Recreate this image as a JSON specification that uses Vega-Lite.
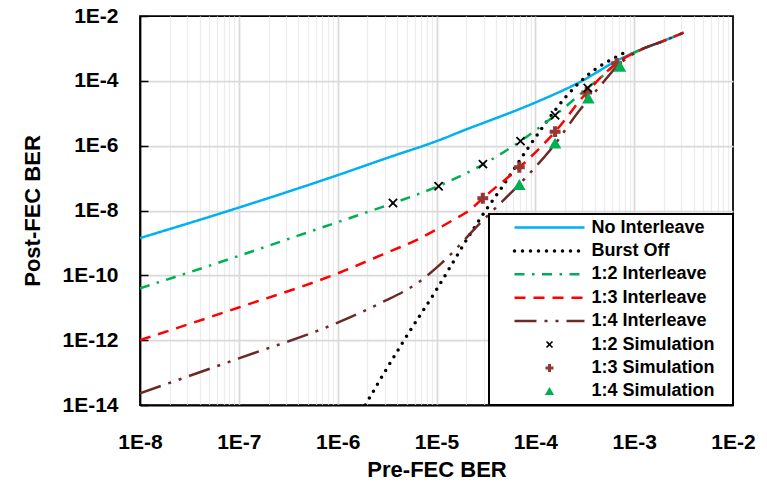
{
  "$schema": "https://vega.github.io/schema/vega-lite/v6.json",
  "width": 593,
  "height": 389,
  "autosize": {"type": "none"},
  "padding": {"left": 140, "top": 16, "right": 34, "bottom": 78},
  "background": "white",
  "config": {
    "font": "Liberation Sans",
    "view": {"stroke": "#000000", "strokeWidth": 1.75, "fill": "white"},
    "axis": {
      "labelFont": "Liberation Sans", "labelFontWeight": "bold", "labelFontSize": 21, "labelColor": "#000000",
      "titleFont": "Liberation Sans", "titleFontWeight": "bold", "titleFontSize": 22, "titleColor": "#000000",
      "domainColor": "#000000", "domainWidth": 1.75,
      "labelOverlap": false, "labelFlush": false, "labelBound": false
    },
    "legend": {
      "orient": "bottom-right", "offset": 0, "padding": 4.5,
      "fillColor": "white", "strokeColor": "#000000", "strokeWidth": 2,
      "symbolSize": 100, "symbolOffset": 47, "labelOffset": 33, "rowPadding": 5.4,
      "labelFont": "Liberation Sans", "labelFontSize": 18, "labelFontWeight": "bold", "labelColor": "#000000", "labelLimit": 400
    }
  },
  "data": {"values": [
    {"series": "No Interleave", "pre": 1e-8, "post": 1.41e-9},
    {"series": "No Interleave", "pre": 1e-7, "post": 1.23e-8},
    {"series": "No Interleave", "pre": 1e-6, "post": 1.23e-7},
    {"series": "No Interleave", "pre": 3.16e-6, "post": 4.17e-7},
    {"series": "No Interleave", "pre": 1e-5, "post": 1.38e-6},
    {"series": "No Interleave", "pre": 2.18e-5, "post": 3.51e-6},
    {"series": "No Interleave", "pre": 3.16e-5, "post": 5.37e-6},
    {"series": "No Interleave", "pre": 1e-4, "post": 2.14e-5},
    {"series": "No Interleave", "pre": 2.83e-4, "post": 9.2e-5},
    {"series": "No Interleave", "pre": 6.7e-4, "post": 4.17e-4},
    {"series": "No Interleave", "pre": 1.148e-3, "post": 8.91e-4},
    {"series": "No Interleave", "pre": 1.905e-3, "post": 1.62e-3},
    {"series": "No Interleave", "pre": 3.16e-3, "post": 3.05e-3},
    {"series": "Burst Off", "pre": 1.905e-6, "post": 1e-14},
    {"series": "Burst Off", "pre": 2.68e-6, "post": 5.92e-14},
    {"series": "Burst Off", "pre": 4.45e-6, "post": 7.64e-13},
    {"series": "Burst Off", "pre": 1.02e-5, "post": 3.99e-11},
    {"series": "Burst Off", "pre": 2.27e-5, "post": 2.22e-9},
    {"series": "Burst Off", "pre": 3.17e-5, "post": 1.04e-8},
    {"series": "Burst Off", "pre": 4.4e-5, "post": 4.3e-8},
    {"series": "Burst Off", "pre": 8.18e-5, "post": 7.36e-7},
    {"series": "Burst Off", "pre": 1.3e-4, "post": 5.5e-6},
    {"series": "Burst Off", "pre": 2.07e-4, "post": 3.4e-5},
    {"series": "Burst Off", "pre": 3.57e-4, "post": 1.71e-4},
    {"series": "Burst Off", "pre": 6.65e-4, "post": 5.56e-4},
    {"series": "Burst Off", "pre": 8.07e-4, "post": 7.59e-4},
    {"series": "1:2 Interleave", "pre": 1e-8, "post": 3.98e-11},
    {"series": "1:2 Interleave", "pre": 1e-7, "post": 3.98e-10},
    {"series": "1:2 Interleave", "pre": 3.16e-7, "post": 1.32e-9},
    {"series": "1:2 Interleave", "pre": 1e-6, "post": 4.37e-9},
    {"series": "1:2 Interleave", "pre": 3.16e-6, "post": 1.45e-8},
    {"series": "1:2 Interleave", "pre": 1e-5, "post": 5.37e-8},
    {"series": "1:2 Interleave", "pre": 3.16e-5, "post": 2.95e-7},
    {"series": "1:2 Interleave", "pre": 7.08e-5, "post": 1.38e-6},
    {"series": "1:2 Interleave", "pre": 1.585e-4, "post": 8.71e-6},
    {"series": "1:2 Interleave", "pre": 3.39e-4, "post": 6.03e-5},
    {"series": "1:2 Interleave", "pre": 5.01e-4, "post": 1.585e-4},
    {"series": "1:2 Interleave", "pre": 7.94e-4, "post": 5.37e-4},
    {"series": "1:2 Interleave", "pre": 1.148e-3, "post": 8.91e-4},
    {"series": "1:2 Interleave", "pre": 1.905e-3, "post": 1.62e-3},
    {"series": "1:2 Interleave", "pre": 3.16e-3, "post": 3.05e-3},
    {"series": "1:3 Interleave", "pre": 1e-8, "post": 1e-12},
    {"series": "1:3 Interleave", "pre": 1e-7, "post": 1.02e-11},
    {"series": "1:3 Interleave", "pre": 1e-6, "post": 1.15e-10},
    {"series": "1:3 Interleave", "pre": 2.79e-6, "post": 4.27e-10},
    {"series": "1:3 Interleave", "pre": 6.81e-6, "post": 1.39e-9},
    {"series": "1:3 Interleave", "pre": 1.48e-5, "post": 5.13e-9},
    {"series": "1:3 Interleave", "pre": 2.18e-5, "post": 1.04e-8},
    {"series": "1:3 Interleave", "pre": 2.95e-5, "post": 2.4e-8},
    {"series": "1:3 Interleave", "pre": 6.92e-5, "post": 2.14e-7},
    {"series": "1:3 Interleave", "pre": 1.585e-4, "post": 2.69e-6},
    {"series": "1:3 Interleave", "pre": 3.31e-4, "post": 4.37e-5},
    {"series": "1:3 Interleave", "pre": 6.65e-4, "post": 3.47e-4},
    {"series": "1:3 Interleave", "pre": 1.148e-3, "post": 8.91e-4},
    {"series": "1:3 Interleave", "pre": 1.905e-3, "post": 1.62e-3},
    {"series": "1:3 Interleave", "pre": 3.16e-3, "post": 3.05e-3},
    {"series": "1:4 Interleave", "pre": 1e-8, "post": 2.29e-14},
    {"series": "1:4 Interleave", "pre": 1e-7, "post": 2.75e-13},
    {"series": "1:4 Interleave", "pre": 1e-6, "post": 3.47e-12},
    {"series": "1:4 Interleave", "pre": 2.69e-6, "post": 1.38e-11},
    {"series": "1:4 Interleave", "pre": 6.31e-6, "post": 5.62e-11},
    {"series": "1:4 Interleave", "pre": 1.12e-5, "post": 2.34e-10},
    {"series": "1:4 Interleave", "pre": 2.75e-5, "post": 3.98e-9},
    {"series": "1:4 Interleave", "pre": 8.13e-5, "post": 1.1e-7},
    {"series": "1:4 Interleave", "pre": 1.51e-4, "post": 9.33e-7},
    {"series": "1:4 Interleave", "pre": 2.82e-4, "post": 1.26e-5},
    {"series": "1:4 Interleave", "pre": 4.47e-4, "post": 6.61e-5},
    {"series": "1:4 Interleave", "pre": 6.92e-4, "post": 3.09e-4},
    {"series": "1:4 Interleave", "pre": 1.148e-3, "post": 8.91e-4},
    {"series": "1:4 Interleave", "pre": 1.905e-3, "post": 1.62e-3},
    {"series": "1:4 Interleave", "pre": 3.16e-3, "post": 3.05e-3},
    {"series": "1:3 Simulation", "pre": 2.94e-5, "post": 2.38e-8},
    {"series": "1:3 Simulation", "pre": 6.89e-5, "post": 2.15e-7},
    {"series": "1:3 Simulation", "pre": 1.585e-4, "post": 2.7e-6},
    {"series": "1:3 Simulation", "pre": 3.31e-4, "post": 4.37e-5},
    {"series": "1:3 Simulation", "pre": 6.65e-4, "post": 3.47e-4},
    {"series": "1:4 Simulation", "pre": 6.89e-5, "post": 6.17e-8},
    {"series": "1:4 Simulation", "pre": 1.585e-4, "post": 1.17e-6},
    {"series": "1:4 Simulation", "pre": 3.44e-4, "post": 2.88e-5},
    {"series": "1:4 Simulation", "pre": 7.19e-4, "post": 2.75e-4},
    {"series": "1:2 Simulation", "pre": 3.63e-6, "post": 1.7e-8},
    {"series": "1:2 Simulation", "pre": 1.05e-5, "post": 5.62e-8},
    {"series": "1:2 Simulation", "pre": 2.95e-5, "post": 2.69e-7},
    {"series": "1:2 Simulation", "pre": 7.08e-5, "post": 1.38e-6},
    {"series": "1:2 Simulation", "pre": 1.585e-4, "post": 8.71e-6},
    {"series": "1:2 Simulation", "pre": 3.39e-4, "post": 6.03e-5}
  ]},
  "layer": [
    {
      "transform": [{"filter": {"field": "series", "equal": "No Interleave"}}],
      "mark": {"type": "line", "strokeWidth": 2.5, "interpolate": "monotone", "clip": true},
      "encoding": {
        "x": {"field": "pre", "type": "quantitative", "title": "Pre-FEC BER",
          "scale": {"type": "log", "domain": [1e-8, 1e-2], "nice": false},
          "axis": {
            "values": [1e-8,2e-8,3e-8,4e-8,5e-8,6e-8,7e-8,8e-8,9e-8,1e-7,2e-7,3e-7,4e-7,5e-7,6e-7,7e-7,8e-7,9e-7,1e-6,2e-6,3e-6,4e-6,5e-6,6e-6,7e-6,8e-6,9e-6,1e-5,2e-5,3e-5,4e-5,5e-5,6e-5,7e-5,8e-5,9e-5,1e-4,2e-4,3e-4,4e-4,5e-4,6e-4,7e-4,8e-4,9e-4,1e-3,2e-3,3e-3,4e-3,5e-3,6e-3,7e-3,8e-3,9e-3,1e-2],
            "labelExpr": "abs(log(datum.value)/LN10 - round(log(datum.value)/LN10)) < 0.01 ? '1E' + round(log(datum.value)/LN10) : ''",
            "ticks": false, "labelPadding": 43, "labelBaseline": "alphabetic",
            "grid": true,
            "gridColor": {"condition": {"test": "abs(log(datum.value)/LN10 - round(log(datum.value)/LN10)) < 0.01", "value": "#D9D9D9"}, "value": "#ECECEC"},
            "gridWidth": {"condition": {"test": "abs(log(datum.value)/LN10 - round(log(datum.value)/LN10)) < 0.01", "value": 1.75}, "value": 1.25},
            "gridOpacity": {"condition": {"test": "datum.value < 1.5e-8 || datum.value > 9.5e-3", "value": 0}, "value": 1},
            "titleX": 296.5, "titleY": 71, "titleBaseline": "alphabetic"
          }
        },
        "y": {"field": "post", "type": "quantitative", "title": "Post-FEC BER",
          "scale": {"type": "log", "domain": [1e-14, 1e-2], "nice": false},
          "axis": {
            "values": [1e-14, 1e-12, 1e-10, 1e-8, 1e-6, 1e-4, 1e-2],
            "labelExpr": "'1E' + round(log(datum.value)/LN10)",
            "ticks": true, "tickSize": -8, "tickColor": "#000000", "tickWidth": 1.5,
            "labelPadding": 30,
            "grid": true, "gridColor": "#D9D9D9", "gridWidth": 1.75,
            "gridOpacity": {"condition": {"test": "datum.value < 1e-13 || datum.value > 5e-3", "value": 0}, "value": 1},
            "titleX": -101, "titleY": 194.5, "titleBaseline": "alphabetic", "titleAngle": 270
          }
        },
        "color": {"field": "series", "type": "nominal",
          "scale": {"domain": ["No Interleave", "Burst Off", "1:2 Interleave", "1:3 Interleave", "1:4 Interleave", "1:2 Simulation", "1:3 Simulation", "1:4 Simulation"],
                    "range": ["#00B0F0", "#000000", "#00B050", "#FF0000", "#6A2B28", "#000000", "#953735", "#00B050"]},
          "legend": {"title": null,
            "encode": {"symbols": {"update": {
              "fill": {"signal": "(datum.value === '1:3 Simulation' || datum.value === '1:4 Simulation') ? scale('color', datum.value) : 'transparent'"},
              "stroke": {"signal": "scale('color', datum.value)"},
              "strokeWidth": {"signal": "(datum.value === 'Burst Off' ? 3.5 : (datum.value === '1:2 Simulation' ? 1.6 : ((datum.value === '1:3 Simulation' || datum.value === '1:4 Simulation') ? 0 : 2.5)))"},
              "strokeCap": {"signal": "(datum.value === 'Burst Off' ? 'round' : 'butt')"},
              "opacity": {"value": 1}
            }}}}
        },
        "strokeDash": {"field": "series", "type": "nominal",
          "scale": {"domain": ["No Interleave", "Burst Off", "1:2 Interleave", "1:3 Interleave", "1:4 Interleave", "1:2 Simulation", "1:3 Simulation", "1:4 Simulation"],
                    "range": [[1, 0], [0, 8], [10, 7.5, 2.5, 7.5], [11, 8], [22, 8, 3, 8, 3, 8], [1, 0], [1, 0], [1, 0]]},
          "legend": {"title": null,
            "encode": {"symbols": {"update": {
              "fill": {"signal": "(datum.value === '1:3 Simulation' || datum.value === '1:4 Simulation') ? scale('color', datum.value) : 'transparent'"},
              "stroke": {"signal": "scale('color', datum.value)"},
              "strokeWidth": {"signal": "(datum.value === 'Burst Off' ? 3.5 : (datum.value === '1:2 Simulation' ? 1.6 : ((datum.value === '1:3 Simulation' || datum.value === '1:4 Simulation') ? 0 : 2.5)))"},
              "strokeCap": {"signal": "(datum.value === 'Burst Off' ? 'round' : 'butt')"},
              "opacity": {"value": 1}
            }}}}
        }
      }
    },
    {
      "transform": [{"filter": {"field": "series", "equal": "Burst Off"}}],
      "mark": {"type": "line", "strokeWidth": 3.5, "strokeCap": "round", "interpolate": "monotone", "clip": true},
      "encoding": {
        "x": {"field": "pre", "type": "quantitative", "scale": {"type": "log", "domain": [1e-8, 1e-2], "nice": false}},
        "y": {"field": "post", "type": "quantitative", "scale": {"type": "log", "domain": [1e-14, 1e-2], "nice": false}},
        "color": {"field": "series", "type": "nominal",
          "scale": {"domain": ["No Interleave", "Burst Off", "1:2 Interleave", "1:3 Interleave", "1:4 Interleave", "1:2 Simulation", "1:3 Simulation", "1:4 Simulation"],
                    "range": ["#00B0F0", "#000000", "#00B050", "#FF0000", "#6A2B28", "#000000", "#953735", "#00B050"]}},
        "strokeDash": {"field": "series", "type": "nominal",
          "scale": {"domain": ["No Interleave", "Burst Off", "1:2 Interleave", "1:3 Interleave", "1:4 Interleave", "1:2 Simulation", "1:3 Simulation", "1:4 Simulation"],
                    "range": [[1, 0], [0, 8], [10, 7.5, 2.5, 7.5], [11, 8], [22, 8, 3, 8, 3, 8], [1, 0], [1, 0], [1, 0]]}}
      }
    },
    {
      "transform": [{"filter": {"field": "series", "oneOf": ["1:2 Interleave", "1:3 Interleave", "1:4 Interleave"]}}],
      "mark": {"type": "line", "strokeWidth": 2.5, "interpolate": "monotone", "clip": true},
      "encoding": {
        "x": {"field": "pre", "type": "quantitative", "scale": {"type": "log", "domain": [1e-8, 1e-2], "nice": false}},
        "y": {"field": "post", "type": "quantitative", "scale": {"type": "log", "domain": [1e-14, 1e-2], "nice": false}},
        "color": {"field": "series", "type": "nominal",
          "scale": {"domain": ["No Interleave", "Burst Off", "1:2 Interleave", "1:3 Interleave", "1:4 Interleave", "1:2 Simulation", "1:3 Simulation", "1:4 Simulation"],
                    "range": ["#00B0F0", "#000000", "#00B050", "#FF0000", "#6A2B28", "#000000", "#953735", "#00B050"]}},
        "strokeDash": {"field": "series", "type": "nominal",
          "scale": {"domain": ["No Interleave", "Burst Off", "1:2 Interleave", "1:3 Interleave", "1:4 Interleave", "1:2 Simulation", "1:3 Simulation", "1:4 Simulation"],
                    "range": [[1, 0], [0, 8], [10, 7.5, 2.5, 7.5], [11, 8], [22, 8, 3, 8, 3, 8], [1, 0], [1, 0], [1, 0]]}}
      }
    },
    {
      "transform": [{"filter": {"field": "series", "oneOf": ["1:3 Simulation", "1:4 Simulation"]}}],
      "mark": {"type": "point", "filled": true, "size": 185, "opacity": 1, "strokeWidth": 0, "clip": true},
      "encoding": {
        "x": {"field": "pre", "type": "quantitative", "scale": {"type": "log", "domain": [1e-8, 1e-2], "nice": false}},
        "y": {"field": "post", "type": "quantitative", "scale": {"type": "log", "domain": [1e-14, 1e-2], "nice": false}},
        "color": {"field": "series", "type": "nominal",
          "scale": {"domain": ["No Interleave", "Burst Off", "1:2 Interleave", "1:3 Interleave", "1:4 Interleave", "1:2 Simulation", "1:3 Simulation", "1:4 Simulation"],
                    "range": ["#00B0F0", "#000000", "#00B050", "#FF0000", "#6A2B28", "#000000", "#953735", "#00B050"]}},
        "shape": {"field": "series", "type": "nominal",
          "scale": {"domain": ["No Interleave", "Burst Off", "1:2 Interleave", "1:3 Interleave", "1:4 Interleave", "1:2 Simulation", "1:3 Simulation", "1:4 Simulation"],
                    "range": ["M-7,0L7,0M34.4,0", "M-7,0L7,0M34.4,0", "M-7,0L7,0M34.4,0", "M-7,0L7,0M34.4,0", "M-7,0L7,0M34.4,0", "M-0.6,-0.6L0.6,0.6M-0.6,0.6L0.6,-0.6", "M-0.3,-0.8H0.3V-0.3H0.8V0.3H0.3V0.8H-0.3V0.3H-0.8V-0.3H-0.3Z", "M0,-0.85L0.92,0.75L-0.92,0.75Z"]},
          "legend": {"title": null,
            "encode": {"symbols": {"update": {
              "fill": {"signal": "(datum.value === '1:3 Simulation' || datum.value === '1:4 Simulation') ? scale('color', datum.value) : 'transparent'"},
              "stroke": {"signal": "scale('color', datum.value)"},
              "strokeWidth": {"signal": "(datum.value === 'Burst Off' ? 3.5 : (datum.value === '1:2 Simulation' ? 1.6 : ((datum.value === '1:3 Simulation' || datum.value === '1:4 Simulation') ? 0 : 2.5)))"},
              "strokeCap": {"signal": "(datum.value === 'Burst Off' ? 'round' : 'butt')"},
              "opacity": {"value": 1}
            }}}}
        }
      }
    },
    {
      "transform": [{"filter": {"field": "series", "equal": "1:2 Simulation"}}],
      "mark": {"type": "point", "filled": false, "size": 185, "opacity": 1, "strokeWidth": 1.8, "clip": true},
      "encoding": {
        "x": {"field": "pre", "type": "quantitative", "scale": {"type": "log", "domain": [1e-8, 1e-2], "nice": false}},
        "y": {"field": "post", "type": "quantitative", "scale": {"type": "log", "domain": [1e-14, 1e-2], "nice": false}},
        "color": {"field": "series", "type": "nominal",
          "scale": {"domain": ["No Interleave", "Burst Off", "1:2 Interleave", "1:3 Interleave", "1:4 Interleave", "1:2 Simulation", "1:3 Simulation", "1:4 Simulation"],
                    "range": ["#00B0F0", "#000000", "#00B050", "#FF0000", "#6A2B28", "#000000", "#953735", "#00B050"]}},
        "shape": {"field": "series", "type": "nominal",
          "scale": {"domain": ["No Interleave", "Burst Off", "1:2 Interleave", "1:3 Interleave", "1:4 Interleave", "1:2 Simulation", "1:3 Simulation", "1:4 Simulation"],
                    "range": ["M-7,0L7,0M34.4,0", "M-7,0L7,0M34.4,0", "M-7,0L7,0M34.4,0", "M-7,0L7,0M34.4,0", "M-7,0L7,0M34.4,0", "M-0.6,-0.6L0.6,0.6M-0.6,0.6L0.6,-0.6", "M-0.3,-0.8H0.3V-0.3H0.8V0.3H0.3V0.8H-0.3V0.3H-0.8V-0.3H-0.3Z", "M0,-0.85L0.92,0.75L-0.92,0.75Z"]}}
      }
    }
  ]
}
